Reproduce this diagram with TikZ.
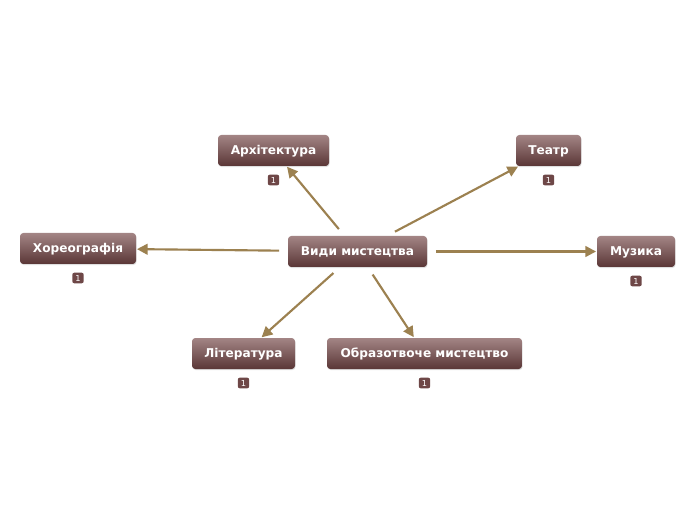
\documentclass[tikz,border=0pt]{standalone}
\usepackage{fontspec}
\setmainfont{DejaVu Sans}
\usetikzlibrary{shadows,arrows.meta}
\definecolor{boxtop}{HTML}{A38585}
\definecolor{boxbot}{HTML}{5A3636}
\definecolor{badge}{HTML}{6E4747}
\definecolor{arrowc}{HTML}{9C8150}
\tikzset{
  topic/.style={rectangle, rounded corners=2.5pt, top color=boxtop, bottom color=boxbot,
    draw=none, text=white, font=\bfseries\fontsize{9.1}{10}\selectfont,
    minimum height=23.25pt, inner sep=0pt, text depth=0.5pt,
    drop shadow={shadow xshift=0.4pt, shadow yshift=-0.8pt, opacity=0.25}},
  badgebox/.style={rectangle, rounded corners=1.5pt, fill=badge, text=white,
    font=\fontsize{6.2}{7}\selectfont, minimum width=8.5pt, minimum height=8pt, inner sep=0pt},
  conn/.style={draw=arrowc, line width=1.6pt, -{Triangle[length=8pt,width=8pt]},
    shorten <=6.5pt, shorten >=0.5pt}
}
\begin{document}
\begin{tikzpicture}[x=0.75pt,y=-0.75pt]
\useasboundingbox[fill=white] (0,0) rectangle (696,520);
\node[topic, minimum width=104.25pt] (c) at (357.5,251.5) {Види мистецтва};
\node[topic, minimum width=83.25pt] (a) at (273.5,150.5) {Архітектура};
\node[topic, minimum width=48.75pt] (t) at (548.5,150.5) {Театр};
\node[topic, minimum width=87pt] (h) at (78,248.5) {Хореографія};
\node[topic, minimum width=58.5pt] (m) at (636,251.5) {Музика};
\node[topic, minimum width=77.25pt] (l) at (243.5,353.5) {Література};
\node[topic, minimum width=146.25pt] (o) at (424.5,353.5) {Образотвоче мистецтво};
\node[badgebox] (ba) at (273.5,180) {1};
\node[badgebox] (bt) at (548.5,180) {1};
\node[badgebox] (bh) at (78,278) {1};
\node[badgebox] (bm) at (636,281) {1};
\node[badgebox] (bl) at (243.5,383) {1};
\node[badgebox] (bo) at (424.5,383) {1};
\draw[conn] (c) -- (a);
\draw[conn] (c) -- (t);
\draw[conn] (c) -- (h);
\draw[conn] (c) -- (m);
\draw[conn] (c) -- (l);
\draw[conn] (c) -- (o);
\end{tikzpicture}
\end{document}
